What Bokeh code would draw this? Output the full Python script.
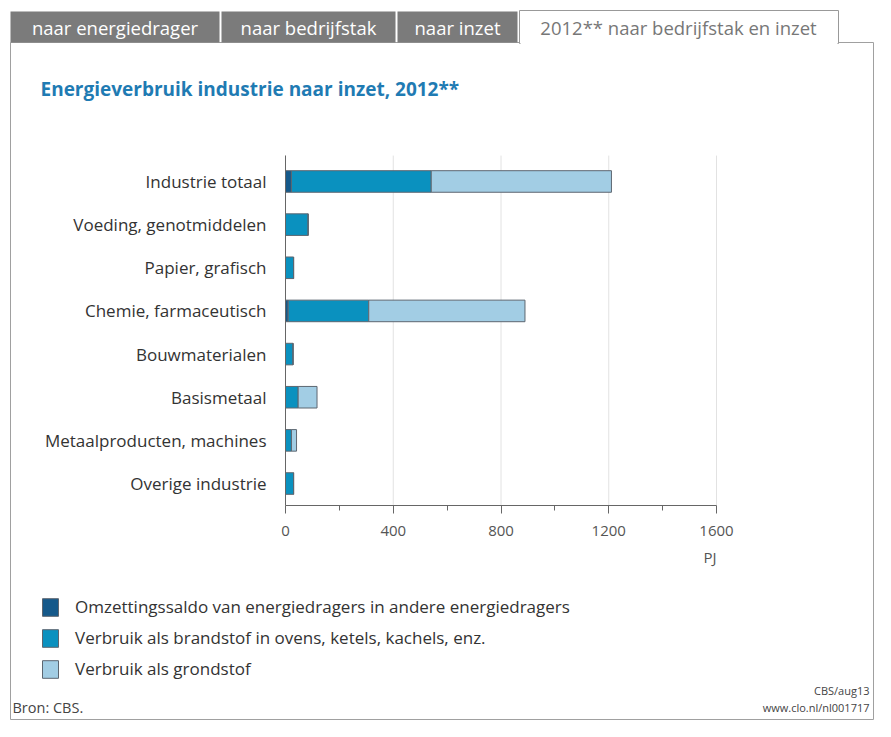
from bokeh.plotting import figure
from bokeh.models import (Range1d, FixedTicker, Legend, LegendItem, LinearAxis,
                          ColumnDataSource)
from bokeh.embed import file_html
from bokeh.resources import INLINE
from bokeh.core.properties import value

# ---------------- data ----------------
categories = ["Industrie totaal", "Voeding, genotmiddelen", "Papier, grafisch",
              "Chemie, farmaceutisch", "Bouwmaterialen", "Basismetaal",
              "Metaalproducten, machines", "Overige industrie"]
omzetting = [22, 0, 0, 10, 0, 0, 0, 0]
brandstof = [519, 84, 30, 299, 28, 47, 22, 30]
grondstof = [669, 0, 0, 580, 0, 70, 19, 0]
series_names = ["Omzettingssaldo van energiedragers in andere energiedragers",
                "Verbruik als brandstof in ovens, ketels, kachels, enz.",
                "Verbruik als grondstof"]
series_colors = ["#15598a", "#0a91bf", "#a2cde4"]
x_ticks = [0, 400, 800, 1200, 1600]
x_minor_ticks = [200, 600, 1000, 1400]
x_max = 1600
x_unit = "PJ"
tabs = ["naar energiedrager", "naar bedrijfstak", "naar inzet",
        "2012** naar bedrijfstak en inzet"]
title = "Energieverbruik industrie naar inzet, 2012**"
source_note = "Bron: CBS."
credit_lines = ["CBS/aug13", "www.clo.nl/nl001717"]

# ---------------- layout (canvas pixels) ----------------
FONT = "Open Sans"
W, H = 875, 721
PLOT_L, PLOT_R = 285, 716      # x = 0 and x = x_max
PLOT_T, PLOT_B = 159.4, 504.6  # top of first row band, bottom of last
n = len(categories)
rows = list(range(n))
row_px = (PLOT_B - PLOT_T) / n
px_per = (PLOT_R - PLOT_L) / x_max

p = figure(width=W, height=H, output_backend="svg", toolbar_location=None,
           title=None, x_range=Range1d(0, W), y_range=Range1d(H, 0),
           x_axis_location=None, y_axis_location=None, min_border=0)
p.outline_line_color = None
p.background_fill_color = "white"
p.border_fill_color = "white"
p.grid.visible = False

# chart coordinate systems, mapped onto the full canvas
p.extra_x_ranges = {"pj": Range1d(-PLOT_L / px_per, (W - PLOT_L) / px_per)}
p.extra_y_ranges = {"row": Range1d((H - PLOT_T) / row_px - 0.5, -PLOT_T / row_px - 0.5)}

# ---------------- decorations: frame, tabs, title ----------------
FR_L, FR_R, FR_T, FR_B = 10, 873, 42, 719
p.quad(left=[FR_L], right=[FR_R], top=[FR_T], bottom=[FR_B], fill_color=None,
       line_color="#a0a0a0", line_width=1)
tab_l = [10, 221, 397]
tab_r = [219, 395, 517]
p.quad(left=tab_l, right=tab_r, top=[11] * 3, bottom=[42] * 3, fill_color="#7b7b7b",
       line_color=None)
p.text(x=[(a + b) / 2 for a, b in zip(tab_l, tab_r)], y=[27] * 3, text=tabs[:3],
       text_align="center", text_baseline="middle", text_color="white",
       text_font=value(FONT), text_font_size="18.5px")
p.quad(left=[519], right=[838], top=[10], bottom=[43], fill_color="white",
       line_color="#999999", line_width=1)
p.quad(left=[520], right=[837], top=[41], bottom=[45], fill_color="white",
       line_color=None)
p.text(x=[678], y=[27], text=[tabs[3]], text_align="center", text_baseline="middle",
       text_color="#777777", text_font=value(FONT), text_font_size="18.5px")

p.text(x=[40], y=[88], text=[title], text_baseline="middle", text_color="#1f7bb3",
       text_font=value(FONT), text_font_size="19px", text_font_style="bold")

# ---------------- chart ----------------
src = ColumnDataSource(dict(row=rows, a=omzetting, b=brandstof, c=grondstof))

p.segment(x0=x_ticks, x1=x_ticks, y0=[-0.6] * len(x_ticks), y1=[n - 0.5] * len(x_ticks),
          line_color="#e2e2e2", line_width=1, x_range_name="pj", y_range_name="row")

rs = p.hbar_stack(["a", "b", "c"], y="row", height=0.5, color=series_colors,
                  line_color="#5d6670", line_width=1, source=src,
                  x_range_name="pj", y_range_name="row")

xa = LinearAxis(x_range_name="pj", y_range_name="row", fixed_location=n - 0.5,
                bounds=(0, x_max), ticker=FixedTicker(ticks=x_ticks, minor_ticks=x_minor_ticks))
xa.axis_line_color = "#666666"
xa.major_tick_line_color = "#666666"
xa.minor_tick_line_color = "#666666"
xa.major_tick_in = 0
xa.major_tick_out = 8
xa.minor_tick_in = 0
xa.minor_tick_out = 5
xa.major_label_text_font = FONT
xa.major_label_text_font_size = "15px"
xa.major_label_text_color = "#555555"
xa.major_label_standoff = 13
p.add_layout(xa, "below")

ya = LinearAxis(x_range_name="pj", y_range_name="row", fixed_location=0,
                bounds=(-0.6, n - 0.5), ticker=FixedTicker(ticks=rows, minor_ticks=[]),
                major_label_overrides={i: c for i, c in zip(rows, categories)})
ya.axis_line_color = "#666666"
ya.major_tick_line_color = None
ya.minor_tick_line_color = None
ya.major_tick_in = 0
ya.major_tick_out = 0
ya.major_label_text_font = FONT
ya.major_label_text_font_size = "17px"
ya.major_label_text_color = "#333333"
ya.major_label_standoff = 19
p.add_layout(ya, "left")

p.text(x=[x_max], y=[556], text=[x_unit], text_align="right", text_baseline="middle",
       text_color="#555555", text_font=value(FONT), text_font_size="15px",
       x_range_name="pj")

# ---------------- legend ----------------
legend = Legend(items=[LegendItem(label=nm, renderers=[r]) for nm, r in zip(series_names, rs)],
                location=(40, 41), orientation="vertical", glyph_width=20,
                glyph_height=22, label_height=22, spacing=8, padding=0, margin=0,
                label_standoff=15, border_line_color=None, background_fill_alpha=0,
                label_text_font=FONT, label_text_font_size="17px",
                label_text_color="#333333")
p.add_layout(legend)

# ---------------- footer ----------------
p.text(x=[12], y=[707], text=[source_note], text_baseline="middle", text_color="#444444",
       text_font=value(FONT), text_font_size="14.5px")
p.text(x=[869, 869], y=[690, 707], text=credit_lines, text_align="right",
       text_baseline="middle", text_color="#444444", text_font=value(FONT),
       text_font_size="11px")

open("out.html", "w").write(file_html(p, INLINE))
